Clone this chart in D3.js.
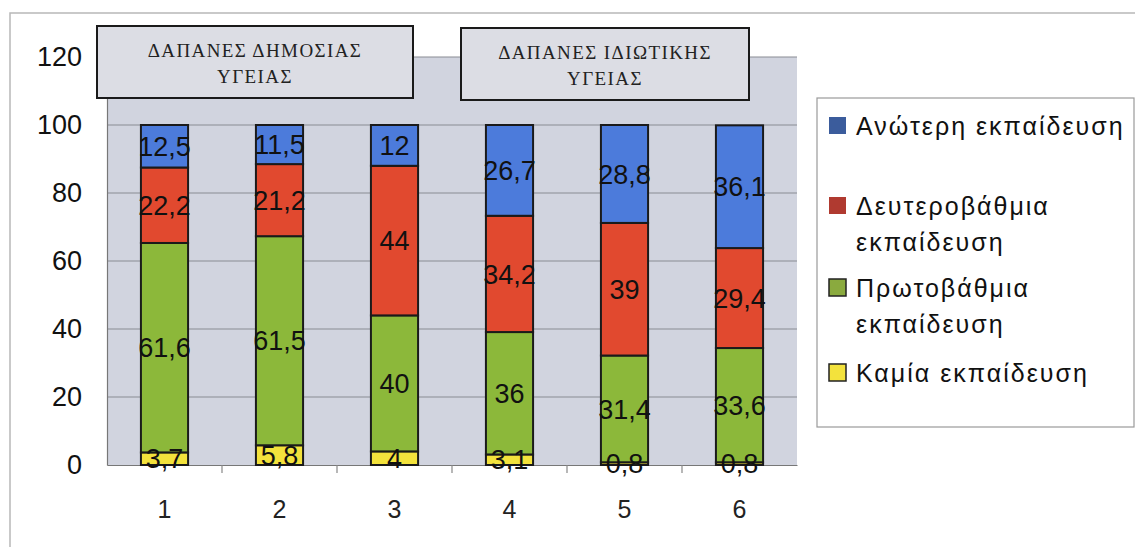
<!DOCTYPE html>
<html>
<head>
<meta charset="utf-8">
<script src="https://cdn.jsdelivr.net/npm/d3@7"></script>
<style>
  html, body { margin: 0; padding: 0; background: #fff; }
  svg { display: block; }
</style>
</head>
<body>
<svg id="chart" width="1135" height="547"></svg>
<script>
// Categories (bar index) and stacked series values (percent)
const categories = ["1", "2", "3", "4", "5", "6"];
const seriesNames = ["Καμία εκπαίδευση", "Πρωτοβάθμια εκπαίδευση", "Δευτεροβάθμια εκπαίδευση", "Ανώτερη εκπαίδευση"];
const noEducation = [3.7, 5.8, 4, 3.1, 0.8, 0.8];
const primary     = [61.6, 61.5, 40, 36, 31.4, 33.6];
const secondary   = [22.2, 21.2, 44, 34.2, 39, 29.4];
const higher      = [12.5, 11.5, 12, 26.7, 28.8, 36.1];
const yTicks = [0, 20, 40, 60, 80, 100, 120];
const groupTitles = [
  { lines: ["ΔΑΠΑΝΕΣ ΔΗΜΟΣΙΑΣ", "ΥΓΕΙΑΣ"], x: 97, y: 26, w: 316, h: 72 },
  { lines: ["ΔΑΠΑΝΕΣ ΙΔΙΩΤΙΚΗΣ", "ΥΓΕΙΑΣ"], x: 461, y: 28, w: 288, h: 72 }
];
const legendItems = [
  { lines: ["Ανώτερη εκπαίδευση"], key: 3 },
  { lines: ["Δευτεροβάθμια", "εκπαίδευση"], key: 2 },
  { lines: ["Πρωτοβάθμια", "εκπαίδευση"], key: 1 },
  { lines: ["Καμία εκπαίδευση"], key: 0 }
];

const colors = ["#f3e23c", "#8cb83a", "#e1492f", "#4c7bdb"];
const legendColors = ["#f3e23c", "#8aaa3e", "#b03a30", "#3b5c9c"];
const sans = "Liberation Sans, Arial, sans-serif";

const svg = d3.select("#chart");
const margin = { left: 107, right: 338, top: 57, bottom: 82 };
const W = 1135, H = 547;

// outer chart frame
svg.append("path")
  .attr("d", `M10,547 V13 H1135`)
  .attr("fill", "none").attr("stroke", "#b8b8b8").attr("stroke-width", 1.5);

const x = d3.scaleBand().domain(categories)
  .range([margin.left, W - margin.right]).paddingInner(0.59).paddingOuter(0.295);
const y = d3.scaleLinear().domain([0, 120]).range([H - margin.bottom, margin.top]);

// plot area
svg.append("rect")
  .attr("x", margin.left).attr("y", y(120))
  .attr("width", W - margin.right - margin.left).attr("height", y(0) - y(120))
  .attr("fill", "#d1d4df");

// gridlines
svg.append("g").selectAll("line").data(yTicks.filter(d => d > 0)).join("line")
  .attr("x1", margin.left).attr("x2", W - margin.right)
  .attr("y1", d => y(d)).attr("y2", d => y(d))
  .attr("stroke", "#8a8c94").attr("stroke-width", 1.2);

// y axis
const yAxis = svg.append("g").attr("transform", `translate(${margin.left},0)`)
  .call(d3.axisLeft(y).tickValues(yTicks).tickSize(0).tickPadding(25));
yAxis.select(".domain").attr("stroke", "#777").attr("stroke-width", 1.2);
yAxis.selectAll("text").attr("font-family", sans)
  .attr("font-size", 27).attr("fill", "#111");

// x axis with ticks between categories
const xAxis = svg.append("g").attr("transform", `translate(0,${y(0)})`)
  .call(d3.axisBottom(x).tickSize(0).tickPadding(35));
xAxis.select(".domain").attr("stroke", "#777").attr("stroke-width", 1.2);
xAxis.selectAll("text").attr("font-family", sans)
  .attr("font-size", 25).attr("fill", "#222");
const step = x.step();
svg.append("g").selectAll("line").data(categories.slice(0, -1)).join("line")
  .attr("x1", d => x(d) + x.bandwidth() / 2 + step / 2)
  .attr("x2", d => x(d) + x.bandwidth() / 2 + step / 2)
  .attr("y1", y(0)).attr("y2", y(0) + 8)
  .attr("stroke", "#888").attr("stroke-width", 1.2);

// stacked data
const rows = categories.map((c, i) => ({
  cat: c, s0: noEducation[i], s1: primary[i], s2: secondary[i], s3: higher[i]
}));
const stack = d3.stack().keys(["s0", "s1", "s2", "s3"])(rows);

const fmt = v => String(v).replace(".", ",");

const layers = svg.append("g").selectAll("g").data(stack).join("g")
  .attr("fill", (d, i) => colors[i]);
layers.selectAll("rect").data(d => d).join("rect")
  .attr("x", d => x(d.data.cat))
  .attr("width", x.bandwidth())
  .attr("y", d => y(d[1]))
  .attr("height", d => y(d[0]) - y(d[1]))
  .attr("stroke", "#1a1a1a").attr("stroke-width", 2);

// value labels
const labels = svg.append("g");
stack.forEach((layer, i) => {
  labels.selectAll(null).data(layer).join("text")
    .attr("x", d => x(d.data.cat) + x.bandwidth() / 2)
    .attr("y", d => y((d[0] + d[1]) / 2))
    .attr("dy", "0.36em")
    .attr("text-anchor", "middle")
    .attr("font-family", sans)
    .attr("font-size", 27)
    .attr("fill", "#111")
    .text(d => fmt(+(d[1] - d[0]).toFixed(1)));
});

// group title boxes
groupTitles.forEach(t => {
  const g = svg.append("g");
  g.append("rect").attr("x", t.x).attr("y", t.y).attr("width", t.w).attr("height", t.h)
    .attr("fill", "#dcdde4").attr("stroke", "#1a1a1a").attr("stroke-width", 2);
  t.lines.forEach((ln, k) => {
    g.append("text").attr("x", t.x + t.w / 2).attr("y", t.y + 31 + k * 26)
      .attr("text-anchor", "middle")
      .attr("font-family", "Liberation Serif, Times New Roman, serif")
      .attr("font-size", 19).attr("letter-spacing", 1.4)
      .attr("fill", "#222").text(ln);
  });
});

// legend
const lg = svg.append("g");
lg.append("rect").attr("x", 817).attr("y", 98).attr("width", 317).attr("height", 329)
  .attr("fill", "#fff").attr("stroke", "#9a9a9a").attr("stroke-width", 1.2);
const legendY = [126, 206, 288, 373];
legendItems.forEach((it, k) => {
  const yy = legendY[k];
  lg.append("rect").attr("x", 829).attr("y", yy - 9).attr("width", 17).attr("height", 17)
    .attr("fill", legendColors[it.key])
    .attr("stroke", it.key < 2 ? "#222" : "none").attr("stroke-width", 1.5);
  it.lines.forEach((ln, j) => {
    lg.append("text").attr("x", 856).attr("y", yy + j * 36).attr("dy", "0.36em")
      .attr("font-family", sans)
      .attr("font-size", 25).attr("letter-spacing", 2)
      .attr("fill", "#111").text(ln);
  });
});
</script>
</body>
</html>
